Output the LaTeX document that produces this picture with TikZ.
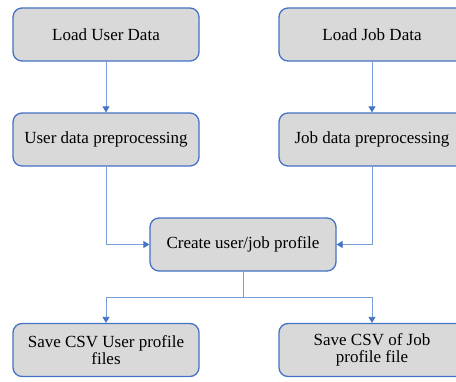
\documentclass[tikz,border=0pt]{standalone}
\usepackage{fontspec}
\setmainfont{Liberation Serif}
\usetikzlibrary{arrows.meta}
\definecolor{boxblue}{RGB}{68,114,196}
\definecolor{boxgray}{RGB}{217,217,217}
\definecolor{linkblue}{RGB}{120,158,218}
\tikzset{
  procbox/.style={draw=boxblue, line width=1.3pt, fill=boxgray, rounded corners=9pt,
    minimum width=186pt, minimum height=53pt, align=center, inner sep=2pt,
    font=\fontsize{17}{17.5}\selectfont},
  linkline/.style={draw=linkblue, line width=0.8pt},
  link/.style={linkline, -{Triangle[width=7pt,length=6pt,color=boxblue]}}
}
\begin{document}
\begin{tikzpicture}[x=1pt,y=-1pt]
\clip (0,0) rectangle (456,381);

\node[procbox] (loaduser) at (106,34.5) {Load User Data};
\node[procbox] (loadjob) at (372,34.5) {Load Job Data};
\node[procbox] (userprep) at (106,139.5) {User data preprocessing};
\node[procbox] (jobprep) at (372,139.5) {Job data preprocessing};
\node[procbox] (profile) at (243,244.5) {Create user/job profile};
\node[procbox] (saveuser) at (106,350) {Save CSV User profile\\files};
\node[procbox] (savejob) at (372,350) {Save CSV of Job\\profile file};

\coordinate (split) at (243,297);

\draw[link] (loaduser) -- (userprep);
\draw[link] (loadjob) -- (jobprep);
\draw[link] (userprep.south) |- (profile.west);
\draw[link] (jobprep.south) |- (profile.east);
\draw[linkline] (profile.south) -- (split);
\draw[link] (split) -| (saveuser.north);
\draw[link] (split) -| (savejob.north);
\end{tikzpicture}
\end{document}
